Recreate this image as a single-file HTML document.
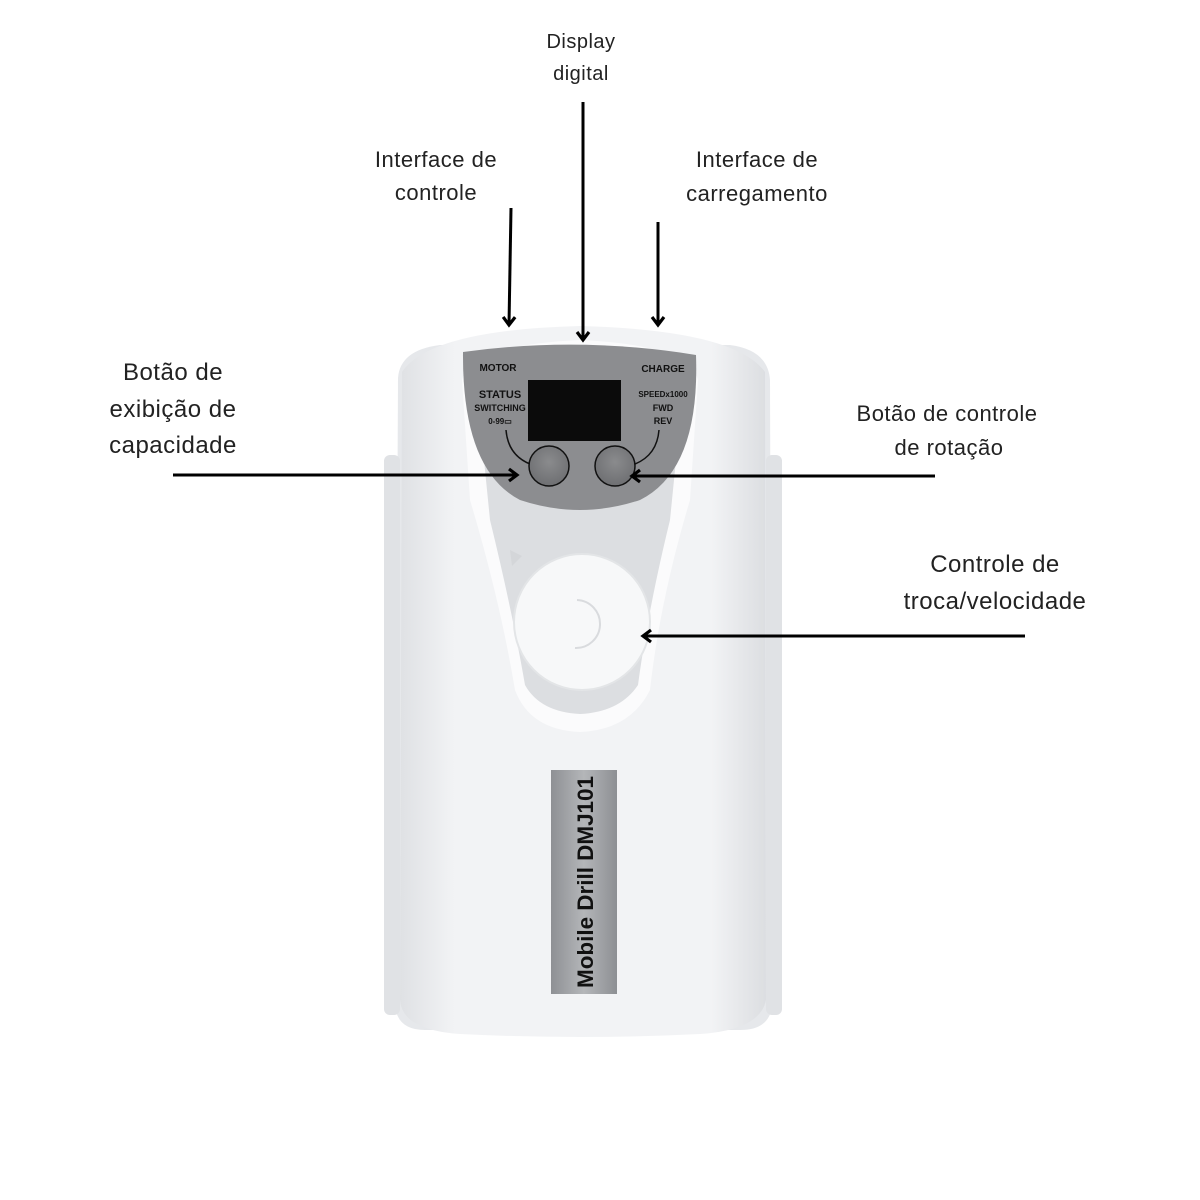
<!DOCTYPE html>
<html><head><meta charset="utf-8"><style>
html,body{margin:0;padding:0;background:#fff;}
svg{display:block;}
text{font-family:"Liberation Sans",sans-serif;}
.lb{font-size:22px;fill:#222;text-anchor:middle;letter-spacing:0.5px;}
.lb2{font-size:20px;fill:#222;text-anchor:middle;letter-spacing:0.5px;}
</style></head><body>
<svg width="1200" height="1200" viewBox="0 0 1200 1200" xmlns="http://www.w3.org/2000/svg">
<defs>
<linearGradient id="body" x1="0" x2="1" y1="0" y2="0">
<stop offset="0" stop-color="#dfe1e4"/><stop offset="0.15" stop-color="#f2f3f5"/><stop offset="0.85" stop-color="#f2f3f5"/><stop offset="1" stop-color="#dcdee1"/>
</linearGradient>
<linearGradient id="lab" x1="0" x2="1"><stop offset="0" stop-color="#8e9094"/><stop offset="0.5" stop-color="#b4b6b9"/><stop offset="1" stop-color="#8d8f93"/></linearGradient>
<radialGradient id="btn" cx="0.5" cy="0.4" r="0.6"><stop offset="0" stop-color="#8a8b8d"/><stop offset="1" stop-color="#6e6f72"/></radialGradient>
<marker id="ah" markerWidth="16" markerHeight="16" refX="11" refY="8" orient="auto" markerUnits="userSpaceOnUse">
<path d="M3,2 L11,8 L3,14" fill="none" stroke="#000" stroke-width="3.2"/>
</marker>
</defs>
<rect width="1200" height="1200" fill="#fff"/>
<path d="M398,378 Q400,350 440,345 L730,345 Q768,350 770,380 L772,1005 Q770,1030 740,1030 L425,1030 Q397,1030 395,1005 Z" fill="#e6e8eb"/>
<rect x="384" y="455" width="16" height="560" rx="6" fill="#e0e2e5"/>
<rect x="766" y="455" width="16" height="560" rx="6" fill="#e0e2e5"/>
<path d="M402,372 Q430,330 580,326 Q735,330 765,372 L766,1000 Q760,1030 700,1034 Q580,1040 460,1034 Q402,1030 400,1000 Z" fill="url(#body)"/>
<path d="M462,380 Q470,345 580,340 Q690,345 698,380 L690,500 Q660,600 650,690 Q630,730 580,732 Q530,730 515,690 Q500,600 470,500 Z" fill="#fbfbfc"/>
<path d="M480,420 Q580,520 680,420 L670,520 Q648,610 638,685 Q620,712 580,714 Q540,712 525,685 Q512,610 490,520 Z" fill="#dcdee1"/>
<path d="M463,352 Q580,336 696,355 Q700,470 640,500 Q580,520 520,500 Q462,470 463,352 Z" fill="#8c8d90"/>
<rect x="528" y="380" width="93" height="61" fill="#0b0b0b"/>
<text x="498" y="371" font-size="10" font-weight="bold" fill="#111" text-anchor="middle">MOTOR</text>
<text x="663" y="372" font-size="10" font-weight="bold" fill="#111" text-anchor="middle">CHARGE</text>
<text x="500" y="398" font-size="11" font-weight="bold" fill="#111" text-anchor="middle">STATUS</text>
<text x="500" y="411" font-size="9" font-weight="bold" fill="#111" text-anchor="middle">SWITCHING</text>
<text x="500" y="424" font-size="8" font-weight="bold" fill="#111" text-anchor="middle">0-99▭</text>
<text x="663" y="397" font-size="8" font-weight="bold" fill="#111" text-anchor="middle">SPEEDx1000</text>
<text x="663" y="411" font-size="9" font-weight="bold" fill="#111" text-anchor="middle">FWD</text>
<text x="663" y="424" font-size="9" font-weight="bold" fill="#111" text-anchor="middle">REV</text>
<path d="M506,430 Q508,455 530,464" fill="none" stroke="#111" stroke-width="1.5"/>
<path d="M659,430 Q657,455 635,464" fill="none" stroke="#111" stroke-width="1.5"/>
<circle cx="549" cy="466" r="20" fill="url(#btn)" stroke="#111" stroke-width="1.5"/>
<circle cx="615" cy="466" r="20" fill="url(#btn)" stroke="#111" stroke-width="1.5"/>
<path d="M510,550 L522,556 L512,566 Z" fill="#d4d6d9"/>
<circle cx="582" cy="622" r="68" fill="#f7f8f9" stroke="#e3e5e7" stroke-width="2"/>
<path d="M577,600 A22,22 0 1 1 575,648" fill="none" stroke="#d9dbde" stroke-width="2"/>
<rect x="551" y="770" width="66" height="224" fill="url(#lab)"/>
<text transform="translate(593,988) rotate(-90)" font-size="22" font-weight="bold" fill="#111" textLength="212" lengthAdjust="spacingAndGlyphs">Mobile Drill DMJ101</text>
<g stroke="#000" stroke-width="3" fill="none">
<line x1="583" y1="102" x2="583" y2="340" marker-end="url(#ah)"/>
<line x1="511" y1="208" x2="509" y2="325" marker-end="url(#ah)"/>
<line x1="658" y1="222" x2="658" y2="325" marker-end="url(#ah)"/>
<line x1="173" y1="475" x2="517" y2="475" marker-end="url(#ah)"/>
<line x1="935" y1="476" x2="632" y2="476" marker-end="url(#ah)"/>
<line x1="1025" y1="636" x2="643" y2="636" marker-end="url(#ah)"/>
</g>
<text class="lb2" x="581" y="48">Display</text>
<text class="lb2" x="581" y="80">digital</text>
<text class="lb" x="436" y="167">Interface de</text>
<text class="lb" x="436" y="200">controle</text>
<text class="lb" x="757" y="167">Interface de</text>
<text class="lb" x="757" y="201">carregamento</text>
<text class="lb" x="173" y="380" style="font-size:24px">Botão de</text>
<text class="lb" x="173" y="417" style="font-size:24px">exibição de</text>
<text class="lb" x="173" y="453" style="font-size:24px">capacidade</text>
<text class="lb" x="947" y="421">Botão de controle</text>
<text class="lb" x="949" y="455">de rotação</text>
<text class="lb" x="995" y="572" style="font-size:24px">Controle de</text>
<text class="lb" x="995" y="609" style="font-size:24px">troca/velocidade</text>
</svg>
</body></html>
